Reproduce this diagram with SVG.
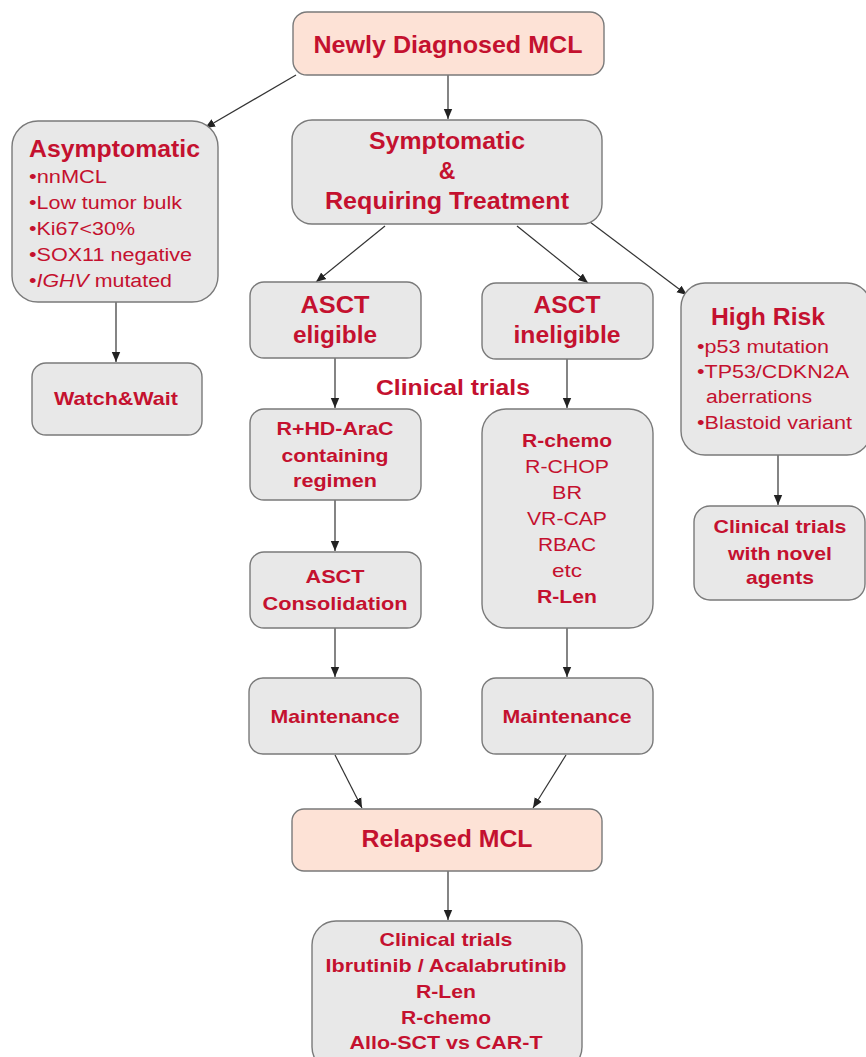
<svg xmlns="http://www.w3.org/2000/svg" width="866" height="1057" viewBox="0 0 866 1057">
<style>
.box{fill:#e8e8e8;stroke:#7a7a7a;stroke-width:1.4}
.pk{fill:#fde2d6;stroke:#7a7a7a;stroke-width:1.4}
text{font-family:"Liberation Sans",Arial,sans-serif;fill:#c4112f}
.b{font-weight:bold}
.c{text-anchor:middle}
.cn line{stroke:#333;stroke-width:1.2;marker-end:url(#ah)}
</style>
<defs>
<marker id="ah" markerUnits="userSpaceOnUse" markerWidth="10" markerHeight="10" refX="10" refY="5" orient="auto" viewBox="0 0 10 10">
<path d="M0,0.8 L10,5 L0,9.2 Z" fill="#222"/>
</marker>
</defs>
<g class="cn" id="connectors">
<line x1="296" y1="75" x2="205" y2="128"/>
<line x1="448" y1="75" x2="448" y2="119"/>
<line x1="385" y1="226" x2="316" y2="282"/>
<line x1="517" y1="226" x2="588" y2="283"/>
<line x1="590" y1="222" x2="687" y2="295"/>
<line x1="116" y1="300" x2="116" y2="362"/>
<line x1="335" y1="358" x2="335" y2="408"/>
<line x1="567" y1="359" x2="567" y2="408"/>
<line x1="778" y1="455" x2="778" y2="505"/>
<line x1="335" y1="500" x2="335" y2="551"/>
<line x1="335" y1="628" x2="335" y2="677"/>
<line x1="567" y1="628" x2="567" y2="677"/>
<line x1="335" y1="755" x2="362" y2="808"/>
<line x1="566" y1="755" x2="533" y2="808"/>
<line x1="448" y1="871" x2="448" y2="920"/>
</g>
<g id="newly">
<rect class="pk" x="293" y="12" width="311" height="63" rx="14"/>
<text class="b c" x="448" y="53" font-size="24" textLength="269" lengthAdjust="spacingAndGlyphs">Newly Diagnosed MCL</text>
</g>
<g id="asymptomatic">
<rect class="box" x="12" y="121" width="206" height="181" rx="26"/>
<text class="b" x="29" y="157" font-size="23" textLength="171" lengthAdjust="spacingAndGlyphs">Asymptomatic</text>
<text x="29" y="183" font-size="18" textLength="78" lengthAdjust="spacingAndGlyphs">•nnMCL</text>
<text x="29" y="209" font-size="18" textLength="153" lengthAdjust="spacingAndGlyphs">•Low tumor bulk</text>
<text x="29" y="235" font-size="18" textLength="106" lengthAdjust="spacingAndGlyphs">•Ki67&lt;30%</text>
<text x="29" y="261" font-size="18" textLength="163" lengthAdjust="spacingAndGlyphs">•SOX11 negative</text>
<text x="29" y="287" font-size="18" textLength="143" lengthAdjust="spacingAndGlyphs">•<tspan font-style="italic">IGHV</tspan> mutated</text>
</g>
<g id="symptomatic">
<rect class="box" x="292" y="120" width="310" height="104" rx="20"/>
<text class="b c" x="447" y="149" font-size="23" textLength="156" lengthAdjust="spacingAndGlyphs">Symptomatic</text>
<text class="b c" x="447" y="179" font-size="23">&amp;</text>
<text class="b c" x="447" y="209" font-size="23" textLength="244" lengthAdjust="spacingAndGlyphs">Requiring Treatment</text>
</g>
<g id="watchwait">
<rect class="box" x="32" y="363" width="170" height="72" rx="14"/>
<text class="b c" x="116" y="405" font-size="19" textLength="124" lengthAdjust="spacingAndGlyphs">Watch&amp;Wait</text>
</g>
<g id="asct-eligible">
<rect class="box" x="250" y="282" width="171" height="76" rx="14"/>
<text class="b c" x="335" y="313" font-size="23" textLength="69" lengthAdjust="spacingAndGlyphs">ASCT</text>
<text class="b c" x="335" y="343" font-size="23" textLength="84" lengthAdjust="spacingAndGlyphs">eligible</text>
</g>
<g id="asct-ineligible">
<rect class="box" x="482" y="283" width="171" height="76" rx="14"/>
<text class="b c" x="567" y="313" font-size="23" textLength="67" lengthAdjust="spacingAndGlyphs">ASCT</text>
<text class="b c" x="567" y="343" font-size="23" textLength="107" lengthAdjust="spacingAndGlyphs">ineligible</text>
</g>
<g id="high-risk">
<rect class="box" x="681" y="283" width="190" height="172" rx="24"/>
<text class="b" x="711" y="325" font-size="23" textLength="114" lengthAdjust="spacingAndGlyphs">High Risk</text>
<text x="697" y="353" font-size="18" textLength="132" lengthAdjust="spacingAndGlyphs">•p53 mutation</text>
<text x="697" y="378" font-size="18" textLength="152" lengthAdjust="spacingAndGlyphs">•TP53/CDKN2A</text>
<text x="706" y="403" font-size="18" textLength="106" lengthAdjust="spacingAndGlyphs">aberrations</text>
<text x="697" y="429" font-size="18" textLength="155" lengthAdjust="spacingAndGlyphs">•Blastoid variant</text>
</g>
<g id="clinical-trials-label">
<text class="b c" x="453" y="395" font-size="22" textLength="154" lengthAdjust="spacingAndGlyphs">Clinical trials</text>
</g>
<g id="rhdarac">
<rect class="box" x="250" y="409" width="171" height="91" rx="14"/>
<text class="b c" x="335" y="435" font-size="19" textLength="117" lengthAdjust="spacingAndGlyphs">R+HD-AraC</text>
<text class="b c" x="335" y="462" font-size="19" textLength="107" lengthAdjust="spacingAndGlyphs">containing</text>
<text class="b c" x="335" y="487" font-size="19" textLength="84" lengthAdjust="spacingAndGlyphs">regimen</text>
</g>
<g id="rchemo">
<rect class="box" x="482" y="409" width="171" height="219" rx="24"/>
<text class="b c" x="567" y="447" font-size="19" textLength="90" lengthAdjust="spacingAndGlyphs">R-chemo</text>
<text class="c" x="567" y="473" font-size="19" textLength="84" lengthAdjust="spacingAndGlyphs">R-CHOP</text>
<text class="c" x="567" y="499" font-size="19" textLength="30" lengthAdjust="spacingAndGlyphs">BR</text>
<text class="c" x="567" y="525" font-size="19" textLength="80" lengthAdjust="spacingAndGlyphs">VR-CAP</text>
<text class="c" x="567" y="551" font-size="19" textLength="58" lengthAdjust="spacingAndGlyphs">RBAC</text>
<text class="c" x="567" y="577" font-size="19" textLength="30" lengthAdjust="spacingAndGlyphs">etc</text>
<text class="b c" x="567" y="603" font-size="19" textLength="60" lengthAdjust="spacingAndGlyphs">R-Len</text>
</g>
<g id="novel-agents">
<rect class="box" x="694" y="506" width="171" height="94" rx="16"/>
<text class="b c" x="780" y="533" font-size="19" textLength="133" lengthAdjust="spacingAndGlyphs">Clinical trials</text>
<text class="b c" x="780" y="560" font-size="19" textLength="104" lengthAdjust="spacingAndGlyphs">with novel</text>
<text class="b c" x="780" y="584" font-size="19" textLength="68" lengthAdjust="spacingAndGlyphs">agents</text>
</g>
<g id="asct-consolidation">
<rect class="box" x="250" y="552" width="171" height="76" rx="14"/>
<text class="b c" x="335" y="583" font-size="19" textLength="59" lengthAdjust="spacingAndGlyphs">ASCT</text>
<text class="b c" x="335" y="610" font-size="19" textLength="145" lengthAdjust="spacingAndGlyphs">Consolidation</text>
</g>
<g id="maintenance-left">
<rect class="box" x="249" y="678" width="172" height="76" rx="14"/>
<text class="b c" x="335" y="723" font-size="19" textLength="129" lengthAdjust="spacingAndGlyphs">Maintenance</text>
</g>
<g id="maintenance-right">
<rect class="box" x="482" y="678" width="171" height="76" rx="14"/>
<text class="b c" x="567" y="723" font-size="19" textLength="129" lengthAdjust="spacingAndGlyphs">Maintenance</text>
</g>
<g id="relapsed">
<rect class="pk" x="292" y="809" width="310" height="62" rx="12"/>
<text class="b c" x="447" y="847" font-size="23" textLength="171" lengthAdjust="spacingAndGlyphs">Relapsed MCL</text>
</g>
<g id="relapsed-options">
<rect class="box" x="312" y="921" width="270" height="150" rx="24"/>
<text class="b c" x="446" y="946" font-size="19" textLength="133" lengthAdjust="spacingAndGlyphs">Clinical trials</text>
<text class="b c" x="446" y="972" font-size="19" textLength="241" lengthAdjust="spacingAndGlyphs">Ibrutinib / Acalabrutinib</text>
<text class="b c" x="446" y="998" font-size="19" textLength="60" lengthAdjust="spacingAndGlyphs">R-Len</text>
<text class="b c" x="446" y="1024" font-size="19" textLength="90" lengthAdjust="spacingAndGlyphs">R-chemo</text>
<text class="b c" x="446" y="1049" font-size="19" textLength="193" lengthAdjust="spacingAndGlyphs">Allo-SCT vs CAR-T</text>
</g>
</svg>
